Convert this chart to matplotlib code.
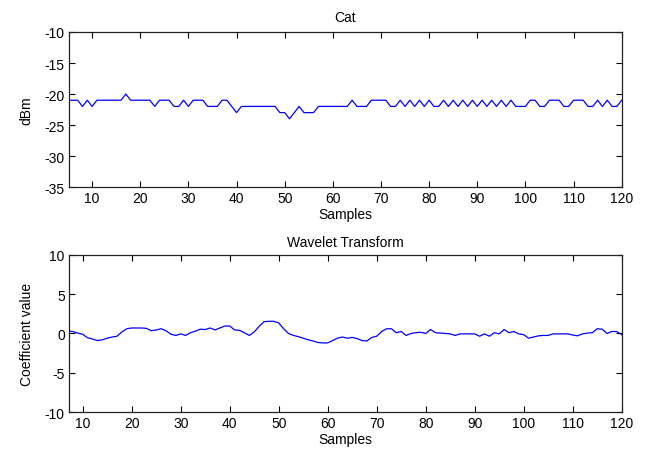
import matplotlib
matplotlib.use("Agg")
import matplotlib.pyplot as plt
import numpy as np

plt.rcParams['font.family'] = ['Liberation Sans', 'DejaVu Sans']
plt.rcParams['font.size'] = 10
plt.rcParams['axes.unicode_minus'] = False

# signal strength (dBm), samples 5..120
cat_x = list(range(5, 121))
cat_dbm = [
    -21, -21, -21, -22, -21, -22, -21, -21, -21, -21, -21, -21, -20, -21,  # 5-18
    -21, -21, -21, -21, -22, -21, -21, -21, -22, -22, -21, -22, -21, -21,  # 19-32
    -21, -22, -22, -22, -21, -21, -22, -23, -22, -22, -22, -22, -22, -22,  # 33-46
    -22, -22, -23, -23, -24, -23, -22, -23, -23, -23, -22, -22, -22, -22,  # 47-60
    -22, -22, -22, -21, -22, -22, -22, -21, -21, -21, -21, -22, -22, -21,  # 61-74
    -22, -21, -22, -21, -22, -21, -22, -22, -21, -22, -21, -22, -21, -22,  # 75-88
    -21, -22, -21, -22, -21, -22, -21, -22, -21, -22, -22, -22, -21, -21,  # 89-102
    -22, -22, -21, -21, -21, -22, -22, -21, -21, -21, -22, -22, -21, -22,  # 103-116
    -21, -22, -22, -21,                                                    # 117-120
]

# wavelet coefficients, samples 7..120
wav_x = list(range(7, 121))
wav_coef = [
    0.3, 0.25, 0.05, -0.1, -0.55, -0.7, -0.9, -0.8, -0.6, -0.45, -0.35, 0.2,    # 7-18
    0.6, 0.7, 0.7, 0.7, 0.65, 0.35, 0.45, 0.6, 0.35, -0.1, -0.25, -0.05,      # 19-30
    -0.25, 0.1, 0.3, 0.55, 0.5, 0.7, 0.45, 0.7, 0.95, 0.95, 0.45, 0.4,        # 31-42
    0.1, -0.25, 0.2, 0.9, 1.5, 1.55, 1.55, 1.35, 0.6, 0.0, -0.25, -0.4,       # 43-54
    -0.6, -0.8, -0.95, -1.15, -1.2, -1.2, -0.9, -0.6, -0.45, -0.6, -0.5, -0.65,  # 55-66
    -0.9, -0.95, -0.5, -0.35, 0.25, 0.6, 0.6, 0.1, 0.25, -0.25, 0.0, 0.1,     # 67-78
    0.15, 0.0, 0.5, 0.1, 0.05, 0.0, -0.05, -0.25, -0.05, -0.05, -0.05, -0.05,  # 79-90
    -0.35, -0.05, -0.35, 0.1, -0.05, 0.5, 0.1, 0.25, -0.05, -0.15, -0.6, -0.45,  # 91-102
    -0.3, -0.25, -0.25, -0.05, -0.05, -0.05, -0.05, -0.2, -0.3, -0.05, 0.05, 0.1,  # 103-114
    0.6, 0.55, 0.0, 0.25, 0.25, -0.15,                                        # 115-120
]

fig = plt.figure(figsize=(6.51, 4.52), dpi=100)
ax1 = fig.add_axes([0.106, 0.584, 0.849, 0.343])
ax2 = fig.add_axes([0.106, 0.086, 0.849, 0.348])

# top panel
ax1.plot(cat_x, cat_dbm, color=(0, 0, 1), linewidth=0.9)
ax1.set_xlim(5.2, 120)
ax1.set_ylim(-35, -10)
ax1.set_xticks(np.arange(10, 121, 10))
ax1.set_yticks(np.arange(-35, -9, 5))
ax1.set_title('Cat', fontsize=10, pad=8)
ax1.set_xlabel('Samples', labelpad=1)
ax1.set_ylabel('dBm', labelpad=8)

# bottom panel
ax2.plot(wav_x, wav_coef, color=(0, 0, 1), linewidth=0.9)
ax2.set_xlim(7.2, 120)
ax2.set_ylim(-10, 10)
ax2.set_xticks(np.arange(10, 121, 10))
ax2.set_yticks(np.arange(-10, 11, 5))
ax2.set_title('Wavelet Transform', fontsize=10, pad=6)
ax2.set_xlabel('Samples', labelpad=1)
ax2.set_ylabel('Coefficient value', labelpad=8)

for ax in (ax1, ax2):
    ax.tick_params(direction='in', top=True, right=True, length=4, width=0.8,
                   labelsize=10, pad=3)
    for s in ax.spines.values():
        s.set_linewidth(0.9)
        s.set_color('#222222')

plt.savefig("out.png", dpi=100)
